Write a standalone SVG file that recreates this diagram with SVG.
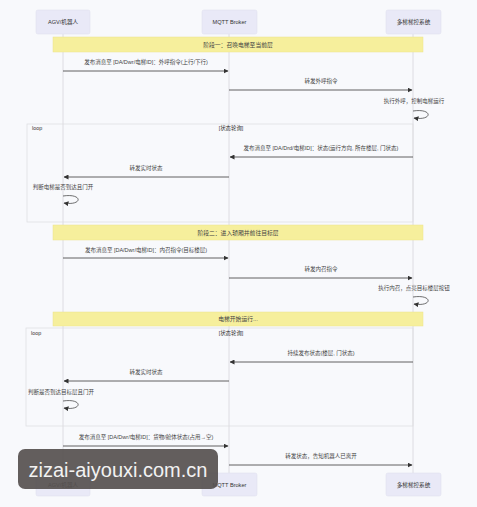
<svg xmlns="http://www.w3.org/2000/svg" width="477" height="507" viewBox="0 0 477 507">
<defs>
<marker id="ah" viewBox="0 0 10 10" refX="9" refY="5" markerWidth="5" markerHeight="5" orient="auto-start-reverse" markerUnits="userSpaceOnUse">
<path d="M0,0 L10,5 L0,10 z" fill="#333"/>
</marker>
<style>
text{font-family:"Liberation Sans","Noto Sans CJK SC",sans-serif;fill:#333;}
.actor rect{fill:#e9e9f7;stroke:#e0e0ee;stroke-width:0.6;}
.actor text{font-size:5.6px;text-anchor:middle;}
.life{stroke:#d6d6dc;stroke-width:0.8;}
.note rect{fill:#f6ef9c;stroke:#ece48a;stroke-width:0.5;}
.note text{font-size:5.8px;text-anchor:middle;fill:#444;}
.frame{fill:none;stroke:#dcdce0;stroke-width:0.7;}
.lbl{font-size:5.4px;}
.msg{stroke:#3a3a3a;stroke-width:0.8;fill:none;marker-end:url(#ah);}
.mt{font-size:5.5px;text-anchor:middle;fill:#444;}
.self{stroke:#333;stroke-width:0.7;fill:none;marker-end:url(#ah);}
</style>
</defs>
<rect width="477" height="507" fill="#f8f9fc"/>

<g id="lifelines">
<line class="life" x1="63" y1="34" x2="63" y2="473"/>
<line class="life" x1="229" y1="34" x2="229" y2="473"/>
<line class="life" x1="413" y1="34" x2="413" y2="473"/>
</g>

<g id="actor-agv-top" class="actor"><rect x="36" y="10" width="54" height="24" rx="2"/><text x="63" y="24">AGV/机器人</text></g>
<g id="actor-mqtt-top" class="actor"><rect x="202" y="10" width="55" height="24" rx="2"/><text x="229.5" y="24">MQTT Broker</text></g>
<g id="actor-ctrl-top" class="actor"><rect x="386" y="10" width="55" height="24" rx="2"/><text x="413.5" y="24">多梯梯控系统</text></g>

<g id="loop1"><rect class="frame" x="27" y="124" width="386" height="98"/><text class="lbl" x="32" y="130">loop</text><text class="lbl" x="231" y="130" text-anchor="middle">[状态轮询]</text></g>
<g id="loop2"><rect class="frame" x="26" y="328" width="387" height="98"/><text class="lbl" x="31" y="335">loop</text><text class="lbl" x="231" y="335" text-anchor="middle">[状态轮询]</text></g>

<g id="note1" class="note"><rect x="53" y="37" width="370" height="15"/><text x="238" y="46.5">阶段一：召唤电梯至当前层</text></g>
<g id="note2" class="note"><rect x="53" y="225" width="370" height="15"/><text x="238" y="234.5">阶段二：进入轿厢并前往目标层</text></g>
<g id="note3" class="note"><rect x="53" y="312" width="370" height="14"/><text x="238" y="321">电梯开始运行...</text></g>

<g id="connectors">
<text class="mt" x="146" y="64">发布消息至 [DA/Dwr/电梯ID]：外呼指令(上行/下行)</text>
<line class="msg" x1="63" y1="71" x2="228" y2="71"/>
<text class="mt" x="321" y="83">转发外呼指令</text>
<line class="msg" x1="229" y1="90" x2="412" y2="90"/>
<text class="mt" x="414" y="103">执行外呼，控制电梯运行</text>
<path class="self" d="M413,111 C433,108 433,121 414,118"/>

<text class="mt" x="321" y="150">发布消息至 [DA/Drd/电梯ID]：状态(运行方向, 所在楼层, 门状态)</text>
<line class="msg" x1="413" y1="157" x2="230" y2="157"/>
<text class="mt" x="146" y="170">转发实时状态</text>
<line class="msg" x1="229" y1="177" x2="64" y2="177"/>
<text class="mt" x="63" y="189">判断电梯是否到达且门开</text>
<path class="self" d="M63,196 C83,193 83,206 64,203"/>

<text class="mt" x="146" y="252">发布消息至 [DA/Dwr/电梯ID]：内召指令(目标楼层)</text>
<line class="msg" x1="63" y1="258" x2="228" y2="258"/>
<text class="mt" x="321" y="271">转发内召指令</text>
<line class="msg" x1="229" y1="278" x2="412" y2="278"/>
<text class="mt" x="414" y="290">执行内召，点亮目标楼层按钮</text>
<path class="self" d="M413,297 C433,294 433,307 414,304"/>

<text class="mt" x="321" y="355">持续发布状态(楼层, 门状态)</text>
<line class="msg" x1="413" y1="362" x2="230" y2="362"/>
<text class="mt" x="146" y="374">转发实时状态</text>
<line class="msg" x1="229" y1="381" x2="64" y2="381"/>
<text class="mt" x="61" y="394">判断是否到达目标层且门开</text>
<path class="self" d="M63,401 C83,398 83,411 64,408"/>

<text class="mt" x="146" y="439">发布消息至 [DA/Dwr/电梯ID]：货物/舱体状态(占用→空)</text>
<line class="msg" x1="63" y1="446" x2="228" y2="446"/>
<text class="mt" x="321" y="458">转发状态，告知机器人已离开</text>
<line class="msg" x1="229" y1="465" x2="412" y2="465"/>
</g>

<g id="actor-agv-bottom" class="actor"><rect x="36" y="473" width="54" height="23" rx="2"/><text x="63" y="486.5">AGV/机器人</text></g>
<g id="actor-mqtt-bottom" class="actor"><rect x="202" y="473" width="55" height="23" rx="2"/><text x="229.5" y="486.5">MQTT Broker</text></g>
<g id="actor-ctrl-bottom" class="actor"><rect x="386" y="473" width="55" height="23" rx="2"/><text x="413.5" y="486.5">多梯梯控系统</text></g>

<g id="watermark">
<rect x="18" y="449" width="200" height="40" rx="7" fill="#56504f" fill-opacity="0.92"/>
<text x="118" y="477" font-size="20" text-anchor="middle" style="fill:#f2f2f2">zizai-aiyouxi.com.cn</text>
</g>
</svg>
